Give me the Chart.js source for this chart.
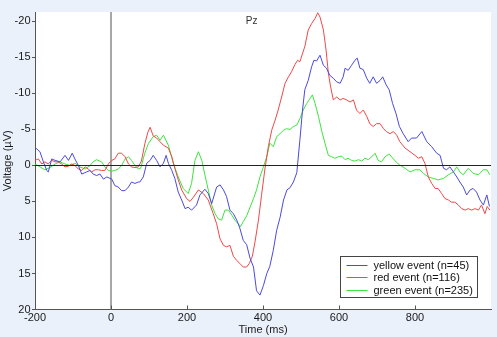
<!DOCTYPE html>
<html>
<head>
<meta charset="utf-8">
<script src="https://cdn.jsdelivr.net/npm/chart.js"></script>
<style>
    body { margin: 0; background: #eaf1fb; }
    #wrap { width: 497px; height: 337px; }
</style>
</head>
<body>
<div id="wrap"><canvas id="myChart" width="497" height="337"></canvas></div>
<script>
// time (ms) / voltage (uV), one pair of arrays per trace
const blueT = [-200, -187, -178, -169, -165, -156, -147, -134, -121, -112, -102, -95, -86, -77, -64, -55, -47, -38, -29, -20, -11, 2, 10, 19, 28, 37, 46, 54, 63, 72,
    76, 85, 94, 103, 111, 120, 129, 138, 145, 151, 160, 168, 177, 186, 195, 203, 212, 225, 234, 247, 256, 265, 278, 287, 296, 304, 313, 322, 331, 339, 348, 357, 366, 375, 383, 392, 401, 410, 418, 427, 436, 445, 454, 463, 471, 480, 489,
    497, 504, 510, 519, 528, 534, 541, 550, 559, 567, 576, 585, 594, 603, 611, 616, 624, 633, 642, 648, 655, 664, 673, 681, 690, 699, 708, 715, 724, 732, 741, 750, 759,
    769, 782, 791, 804, 818, 831, 844, 857, 866, 875, 883, 892, 901, 910, 918, 927, 936, 945, 953, 962, 971, 980, 989, 996];
const blueV = [-2.5, -1.9, -0.5, 0.7, 0.9, -0.9, -0.7, -0.5, -1.4, -0.7, -1.7, -0.9, 0, 1.2, 0.9, 0.7, 1.2, 1.4, 1.2, 1.9, 1.6, 1.9, 2.8, 3.0, 3.5, 3.5, 3.0, 2.3, 2.5, 2.3,
    2.3, 1.6, -0.3, -0.7, -1.4, -0.7, 0.2, -0.3, -1.4, -0.3, 0.7, 1.8, 3.7, 4.8, 6.0, 5.8, 6.2, 5.5, 4.1, 3.3, 3.9, 5.3, 3.0, 2.7, 3.4, 4.3, 6.2, 6.7, 7.6, 8.7, 10.4, 11.0, 12.9, 14.1, 17.4, 18.0, 16.7, 15.0, 14.0, 11.8, 9.0, 7.2, 4.8, 3.4, 3.1, 2.3, 1.0,
    -3.5, -7.7, -10.5, -11.8, -13.7, -14.6, -14.5, -15.3, -13.9, -13.5, -12.5, -12.1, -11.6, -11.4, -12.3, -13.5, -13.2, -13.9, -14.6, -14.9, -13.5, -13.3, -12.1, -11.4, -12.3, -11.4, -11.8, -12.3, -11.2, -10.5, -8.6, -7.2, -5.4,
    -4.4, -3.3, -3.8, -3.8, -4.7, -3.3, -2.6, -1.7, -1.4, 0.4, 0.6, 0.2, 0.9, 1.6, 2.3, 3.0, 4.1, 3.4, 3.2, 3.7, 4.8, 5.5, 4.1, 5.7];

const redT = [-200, -191, -182, -174, -165, -156, -147, -139, -130, -121, -112, -104, -95, -86, -77, -68, -60, -51, -42, -33, -25, -16, -7, 2, 10, 19, 28, 37, 46, 54, 63, 72,
    80, 89, 97, 103, 111, 120, 129, 138, 151, 160, 168, 177, 186, 199, 208, 217, 230, 243, 256, 269, 278, 287, 296, 304, 313, 322, 331, 339, 348, 357, 364, 372, 379, 388, 396, 405, 414, 423, 432, 440, 449, 458, 467, 475, 484, 491,
    497, 510, 519, 528, 537, 544, 550, 559, 566, 572, 578, 585, 594, 603, 611, 620, 629, 638, 646, 655, 664, 673, 681, 690, 699, 708, 717, 725, 734, 743, 752,
    760, 774, 787, 800, 809, 818, 826, 835, 844, 853, 861, 870, 879, 888, 896, 905, 914, 923, 932, 940, 949, 958, 967, 975, 984, 990, 997];
const redV = [-0.7, -0.9, -0.2, -0.5, -0.2, -0.7, -0.5, -0.5, -0.2, 0.2, 0.1, -0.2, 0, 0.5, 0.7, 0.2, 0.5, 0.9, 0.6, 0.6, 0.7, 0.7, -0.2, -0.7, -0.9, -1.7, -1.7, -1.2, -0.2, 0.2, 0.3, 0.2,
    -0.6, -3.0, -4.6, -5.3, -4.1, -3.8, -3.3, -2.8, -2.4, -1.2, 0.4, 2.0, 3.4, 4.6, 5.0, 4.4, 3.4, 3.9, 4.8, 6.7, 8.1, 10.2, 11.1, 11.3, 11.1, 12.6, 13.2, 13.6, 14.1, 14.1, 13.6, 12.6, 10.6, 7.6, 4.2, 0.5, -2.6, -4.9, -6.3, -7.7, -9.5, -11.4, -12.3, -13.0, -14.0, -14.6,
    -14.4, -16.5, -18.8, -19.7, -20.4, -21.2, -20.6, -18.8, -16.0, -12.8, -10.9, -9.1, -9.5, -9.1, -9.3, -9.1, -8.8, -9.1, -7.7, -7.2, -7.7, -6.8, -5.8, -5.4, -5.8, -5.8, -5.1, -4.7, -4.4, -4.7, -4.2,
    -3.3, -2.4, -1.9, -1.4, -1.0, -1.2, -0.3, 1.6, 2.5, 3.2, 3.2, 3.9, 4.6, 4.8, 5.1, 5.1, 5.5, 6.0, 6.2, 6.0, 6.2, 6.0, 6.2, 5.5, 6.7, 5.7, 6.2];

const greenT = [-200, -187, -174, -161, -147, -134, -121, -108, -95, -82, -68, -55, -47, -38, -25, -16, -7, 2, 10, 19, 28, 37, 46, 54, 63, 72,
    78, 89, 98, 111, 120, 129, 138, 151, 164, 177, 190, 203, 212, 221, 230, 239, 247, 256, 265, 274, 282, 291, 300, 309, 318, 326, 335, 341, 348, 357, 366, 375, 383, 392, 401, 410, 418, 427, 436, 445, 454, 462, 471, 480, 489, 497,
    506, 515, 524, 530, 537, 546, 554, 563, 572, 581, 589, 598, 607, 616, 624, 633, 642, 651, 660, 668, 677, 686, 695, 703, 712, 721, 732, 743,
    752, 760, 774, 787, 800, 813, 822, 835, 848, 861, 875, 888, 901, 910, 918, 927, 940, 953, 967, 980, 989, 997];
const greenV = [-0.2, 0.2, 0.6, 0.3, -0.2, -0.5, -0.2, 0, -0.3, 0.2, 0.5, 0, -0.5, -0.8, -0.5, 0.2, 0.7, 0.8, 0.7, 0.5, 0, -0.9, -1.2, -0.7, 0, 0.5,
    0.4, -1.7, -3.0, -4.0, -4.2, -3.5, -4.2, -2.8, -0.3, 1.6, 3.2, 3.9, 2.5, -0.7, -1.9, -0.7, 1.3, 3.4, 5.5, 6.7, 7.4, 7.6, 6.2, 6.2, 6.9, 7.6, 8.1, 8.5, 7.8, 7.0, 5.8, 4.6, 3.4, 1.6, 0.2, -1.2, -3.1, -2.6, -4.0, -4.4, -4.9, -5.1, -5.0, -5.4, -5.6, -6.5,
    -7.7, -8.6, -9.3, -9.8, -8.6, -6.8, -4.9, -3.1, -1.4, -1.2, -1.0, -1.2, -1.3, -0.8, -1.0, -0.7, -0.6, -0.8, -0.6, -1.0, -0.8, -1.2, -1.7, -0.7, -0.5, -1.2, -1.6, -0.9,
    -0.4, -0.05, 0.4, 0.9, 0.6, 0.6, 1.1, 1.6, 1.8, 2.0, 1.8, 1.3, 0.9, 0.2, 0.9, 1.3, 0.4, 1.1, 1.3, 0.6, 0.6, 1.3];

const seriesNames = ['yellow event (n=45)', 'red event (n=116)', 'green event (n=235)'];
const seriesColors = ['#4a4ade', '#f04848', '#3ee43e'];
const xTicks = [-200, 0, 200, 400, 600, 800];
const yTicks = [-20, -15, -10, -5, 0, 5, 10, 15, 20];

const FONT = 'Liberation Sans, Arial, sans-serif';
const ctx = document.getElementById('myChart');

const pairs = (ts, vs) => ts.map((t, i) => ({x: t, y: vs[i]}));

// white plot area, zero lines, inward x ticks, "Pz" label and the boxed legend
const decor = {
    id: 'decor',
    beforeDraw(chart) {
        const {ctx: c, chartArea: a} = chart;
        c.save();
        c.fillStyle = '#ffffff';
        c.fillRect(a.left, a.top, a.right - a.left, a.bottom - a.top);
        c.restore();
    },
    beforeDatasetsDraw(chart) {
        const {ctx: c, chartArea: a, scales: {x}} = chart;
        c.save();
        c.strokeStyle = '#8a8a8a';
        c.lineWidth = 1.5;
        const x0 = x.getPixelForValue(0);
        c.beginPath();
        c.moveTo(x0, a.top);
        c.lineTo(x0, a.bottom);
        c.stroke();
        c.restore();
    },
    afterDatasetsDraw(chart) {
        const {ctx: c, chartArea: a, scales: {x, y}} = chart;
        c.save();
        c.strokeStyle = '#222';
        c.lineWidth = 1;
        const y0 = Math.round(y.getPixelForValue(0)) + 0.5;
        c.beginPath();
        c.moveTo(a.left, y0);
        c.lineTo(a.right, y0);
        c.stroke();

        c.strokeStyle = '#555';
        xTicks.forEach(v => {
            const px = Math.round(x.getPixelForValue(v)) + 0.5;
            c.beginPath();
            c.moveTo(px, a.bottom);
            c.lineTo(px, a.bottom - 4);
            c.stroke();
        });

        c.fillStyle = '#333';
        c.font = '10px ' + FONT;
        c.textAlign = 'center';
        c.textBaseline = 'middle';
        c.fillText('Pz', x.getPixelForValue(370), y.getPixelForValue(-20));

        // legend box
        const bw = 137, bh = 41;
        const bx = Math.round(a.right - 14 - bw) + 0.5;
        const by = Math.round(a.bottom - 13 - bh) + 0.5;
        c.fillStyle = '#fff';
        c.fillRect(bx, by, bw, bh);
        c.strokeStyle = '#444';
        c.strokeRect(bx, by, bw, bh);
        c.font = '11px ' + FONT;
        c.textAlign = 'left';
        chart.data.datasets.forEach((ds, i) => {
            const ry = Math.round(by + 8.5 + i * 12.4) + 0.5;
            c.strokeStyle = ds.borderColor;
            c.beginPath();
            c.moveTo(bx + 6, ry);
            c.lineTo(bx + 27, ry);
            c.stroke();
            c.fillStyle = '#111';
            c.fillText(ds.label, bx + 33, ry);
        });
        c.restore();
    }
};

const chart = new Chart(ctx, {
    type: 'line',
    data: {
        datasets: [
            {label: seriesNames[0], data: pairs(blueT, blueV), borderColor: seriesColors[0]},
            {label: seriesNames[1], data: pairs(redT, redV), borderColor: seriesColors[1]},
            {label: seriesNames[2], data: pairs(greenT, greenV), borderColor: seriesColors[2]}
        ]
    },
    options: {
        responsive: false,
        animation: false,
        devicePixelRatio: 1,
        elements: {
            point: { radius: 0 },
            line: { borderWidth: 1, tension: 0 }
        },
        layout: {
            padding: { top: 12, right: 6, left: 0, bottom: 0 }
        },
        plugins: {
            legend: { display: false },
            tooltip: { enabled: false }
        },
        scales: {
            x: {
                type: 'linear',
                min: -200,
                max: 1000,
                afterFit: s => { s.height = 27.5; },
                afterBuildTicks: s => { s.ticks = xTicks.map(v => ({value: v})); },
                grid: { drawOnChartArea: false, drawTicks: false },
                border: { color: '#555', width: 1 },
                ticks: { padding: 2, color: '#1a1a1a', font: { family: FONT, size: 11 } },
                title: {
                    display: true,
                    text: 'Time (ms)',
                    color: '#1a1a1a',
                    font: { family: FONT, size: 11 },
                    padding: 0
                }
            },
            y: {
                type: 'linear',
                reverse: true,
                min: -21.3,
                max: 20,
                afterFit: s => { s.width = 35; },
                afterBuildTicks: s => { s.ticks = yTicks.map(v => ({value: v})); },
                grid: { drawOnChartArea: false, tickLength: 3, color: '#555' },
                border: { color: '#555', width: 1 },
                ticks: { padding: 1.5, color: '#1a1a1a', font: { family: FONT, size: 11 } },
                title: {
                    display: true,
                    text: 'Voltage (µV)',
                    color: '#1a1a1a',
                    font: { family: FONT, size: 11 },
                    padding: { top: 1.5, bottom: 0 }
                }
            }
        }
    },
    plugins: [decor]
});
</script>
</body>
</html>
